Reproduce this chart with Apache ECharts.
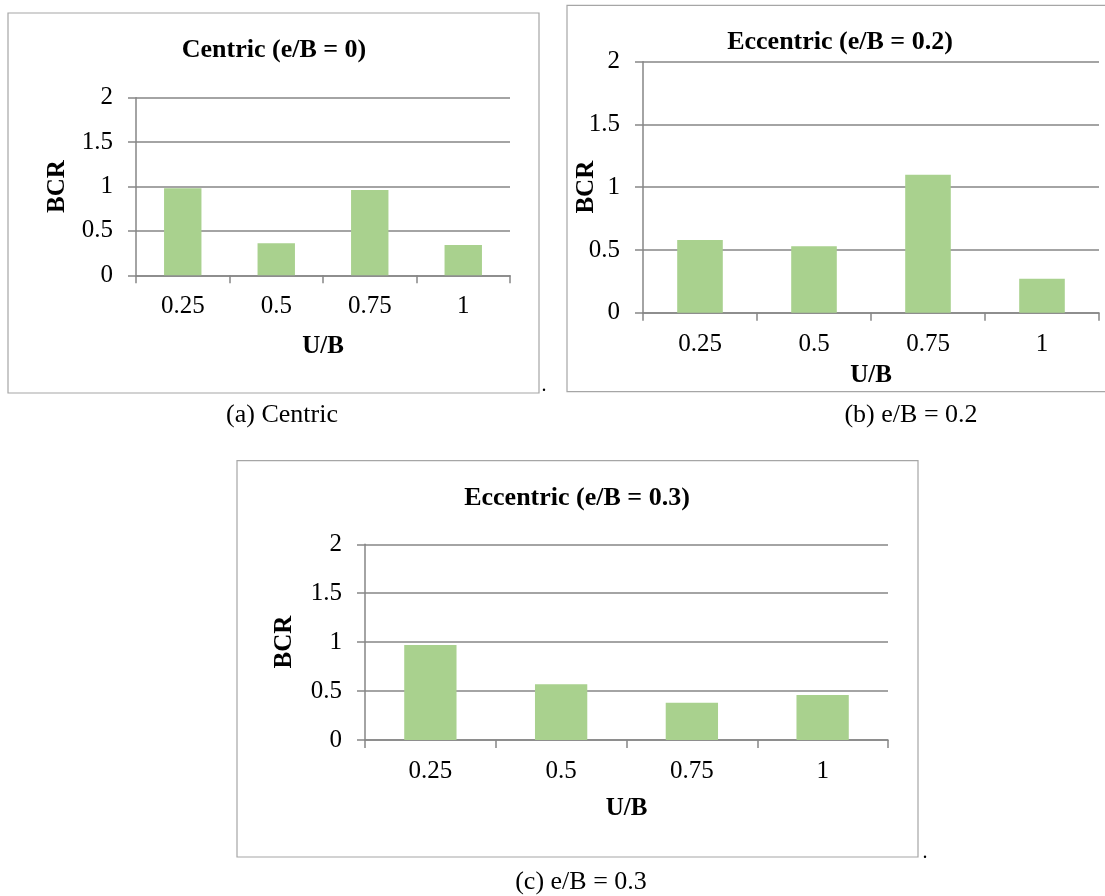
<!DOCTYPE html>
<html>
<head>
<meta charset="utf-8">
<script src="https://cdn.jsdelivr.net/npm/echarts@6/dist/echarts.min.js"></script>
<style>
html,body{margin:0;padding:0;background:#fff;}
#main{width:1105px;height:896px;}
</style>
</head>
<body>
<div id="main"></div>
<script>
// ---- data ----
const categories = ['0.25', '0.5', '0.75', '1'];
const bcrCentric = [0.98, 0.36, 0.96, 0.34];
const bcrEcc02 = [0.58, 0.53, 1.10, 0.27];
const bcrEcc03 = [0.97, 0.57, 0.38, 0.46];
const yMin = 0, yMax = 2, yStep = 0.5;
const chartTitles = ['Centric (e/B = 0)', 'Eccentric (e/B = 0.2)', 'Eccentric (e/B = 0.3)'];
const captions = ['(a) Centric', '(b) e/B = 0.2', '(c) e/B = 0.3'];
const xName = 'U/B', yName = 'BCR';

// ---- styling / layout ----
const FONT = "'Liberation Serif', 'Times New Roman', serif";
const AXIS_GRAY = '#868686';
const BAR_GREEN = '#a9d18e';

const panels = [
  { grid: {left: 136, top: 97.7, width: 374, height: 177.6}, xGap: 59, yGap: 66, data: bcrCentric },
  { grid: {left: 643, top: 61.7, width: 456, height: 251}, xGap: 50, yGap: 43.5, data: bcrEcc02 },
  { grid: {left: 365, top: 544.3, width: 523, height: 195.7}, xGap: 56.5, yGap: 67.5, data: bcrEcc03 }
];

const chart = echarts.init(document.getElementById('main'), null, {renderer: 'canvas'});

const grids = [], xAxes = [], yAxes = [], series = [];
panels.forEach((p, i) => {
  grids.push(Object.assign({containLabel: false}, p.grid));
  xAxes.push({
    type: 'category', gridIndex: i, data: categories, boundaryGap: true,
    name: xName, nameLocation: 'middle', nameGap: p.xGap, nameMoveOverlap: false,
    nameTextStyle: {fontFamily: FONT, fontSize: 25, fontWeight: 'bold', color: '#000'},
    axisLine: {show: true, lineStyle: {color: AXIS_GRAY, width: 1.5}},
    axisTick: {show: true, alignWithLabel: false, length: 8, lineStyle: {color: AXIS_GRAY, width: 1.5}},
    axisLabel: {fontFamily: FONT, fontSize: 25, color: '#000', margin: 19},
    splitLine: {show: false}
  });
  yAxes.push({
    type: 'value', gridIndex: i, min: yMin, max: yMax, interval: yStep,
    name: yName, nameLocation: 'middle', nameGap: p.yGap, nameMoveOverlap: false,
    nameTextStyle: {fontFamily: FONT, fontSize: 25, fontWeight: 'bold', color: '#000'},
    axisLine: {show: true, lineStyle: {color: AXIS_GRAY, width: 1.5}},
    axisTick: {show: true, length: 8, lineStyle: {color: AXIS_GRAY, width: 1.5}},
    axisLabel: {fontFamily: FONT, fontSize: 25, color: '#000', margin: 23},
    splitLine: {show: true, lineStyle: {color: AXIS_GRAY, width: 1.5}}
  });
  series.push({
    type: 'bar', xAxisIndex: i, yAxisIndex: i, data: p.data,
    barWidth: '40%', itemStyle: {color: BAR_GREEN}, silent: true
  });
});

function txt(str, x, y, size, bold) {
  return {
    type: 'text', x: x, y: y, silent: true,
    style: {
      text: str, fill: '#000',
      font: (bold ? 'bold ' : '') + size + 'px ' + FONT,
      align: 'center', verticalAlign: 'middle',
      textAlign: 'center', textVerticalAlign: 'middle'
    }
  };
}
function box(x, y, w, h) {
  return {
    type: 'rect', silent: true, z: -1,
    shape: {x: x, y: y, width: w, height: h},
    style: {fill: 'none', stroke: '#a6a6a6', lineWidth: 1.2}
  };
}

const graphics = [
  box(8, 13, 531, 380),
  box(567, 5.3, 560, 386.4),
  box(237, 460.7, 681, 396.3),
  txt(chartTitles[0], 274, 50, 26, true),
  txt(chartTitles[1], 840, 42, 26, true),
  txt(chartTitles[2], 577, 498, 26, true),
  txt(captions[0], 282, 415, 26, false),
  txt(captions[1], 911, 415, 26, false),
  txt(captions[2], 581, 882, 26, false),
  txt('.', 544, 386, 20, false),
  txt('.', 925, 853, 20, false)
];

chart.setOption({
  backgroundColor: '#fff',
  animation: false,
  grid: grids,
  xAxis: xAxes,
  yAxis: yAxes,
  series: series,
  graphic: graphics
});
</script>
</body>
</html>
